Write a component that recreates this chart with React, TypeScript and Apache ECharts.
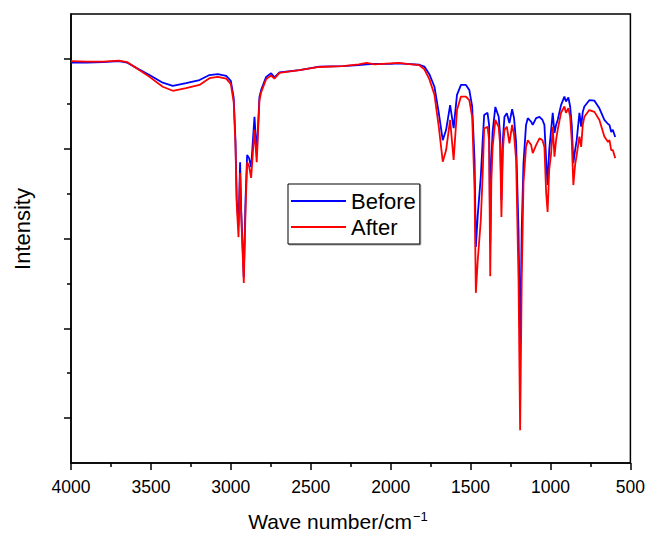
import React, { useEffect, useRef } from "react";
import * as echarts from "echarts";

const wavenumbers = [
  4000, 3900, 3800, 3700, 3650, 3592, 3509, 3426, 3363, 3280, 3196, 3134, 3082, 3029, 3000,
  2982, 2971, 2963, 2952, 2942, 2935, 2919, 2908, 2898, 2886, 2873, 2852, 2838, 2821, 2810,
  2779, 2748, 2727, 2696, 2571, 2446, 2300, 2200, 2150, 2100, 2000, 1950, 1900, 1820, 1789,
  1758, 1726, 1699, 1674, 1653, 1628, 1606, 1585, 1560, 1529, 1508, 1490, 1475, 1467, 1455,
  1436, 1424, 1415, 1394, 1384, 1377, 1370, 1362, 1345, 1324, 1315, 1307, 1298, 1288, 1273,
  1257, 1240, 1228, 1215, 1200, 1190, 1180, 1169, 1153, 1142, 1121, 1111, 1090, 1069, 1050,
  1038, 1027, 1018, 1008, 996, 986, 975, 965, 955, 934, 913, 903, 888, 877, 867,
  857, 846, 836, 819, 808, 798, 788, 757, 725, 694, 663, 640, 631, 620, 610,
  595,
];

const before = [
  8.92, 8.92, 8.93, 8.95, 8.92, 8.80, 8.64, 8.47, 8.40, 8.46, 8.53, 8.64, 8.66, 8.62, 8.51,
  8.13, 7.19, 5.86, 5.28, 6.70, 5.63, 4.14, 5.86, 6.86, 6.79, 6.59, 7.71, 6.90, 8.15, 8.31,
  8.60, 8.68, 8.59, 8.70, 8.75, 8.83, 8.84, 8.86, 8.88, 8.89, 8.89, 8.90, 8.89, 8.87, 8.83,
  8.66, 8.38, 7.80, 7.19, 7.42, 7.97, 7.46, 8.20, 8.42, 8.42, 8.31, 7.94, 6.75, 4.81, 5.52,
  6.38, 7.19, 7.75, 7.80, 7.53, 4.90, 6.75, 7.38, 7.93, 7.71, 7.31, 5.86, 7.19, 7.71, 7.79,
  7.57, 7.88, 7.68, 7.13, 5.19, 2.58, 5.19, 6.67, 7.53, 7.68, 7.60, 7.53, 7.68, 7.71, 7.64,
  7.53, 6.75, 6.19, 6.97, 7.42, 7.80, 7.35, 7.53, 7.64, 7.97, 8.16, 8.05, 8.14, 7.94, 7.53,
  6.68, 6.97, 7.19, 7.80, 7.49, 7.82, 7.94, 8.08, 8.07, 7.90, 7.64, 7.55, 7.53, 7.37, 7.42,
  7.26,
];

const after = [
  8.95, 8.94, 8.94, 8.96, 8.93, 8.80, 8.60, 8.38, 8.29, 8.35, 8.42, 8.57, 8.60, 8.56, 8.44,
  8.04, 7.08, 5.75, 5.03, 6.46, 5.52, 4.01, 5.63, 6.70, 6.61, 6.35, 7.42, 6.70, 8.08, 8.26,
  8.55, 8.63, 8.56, 8.69, 8.75, 8.82, 8.84, 8.88, 8.91, 8.88, 8.90, 8.91, 8.89, 8.86, 8.77,
  8.55, 8.20, 7.49, 6.71, 6.97, 7.64, 6.75, 7.86, 8.16, 8.16, 8.08, 7.71, 6.08, 3.79, 4.52,
  5.41, 6.46, 7.45, 7.49, 7.19, 4.16, 6.30, 7.04, 7.64, 7.48, 7.08, 5.48, 6.97, 7.42, 7.49,
  7.12, 7.53, 7.31, 6.75, 4.08, 0.73, 4.08, 6.24, 7.04, 7.19, 7.08, 6.90, 7.08, 7.23, 7.19,
  7.04, 6.01, 5.59, 6.53, 6.90, 7.48, 6.82, 7.19, 7.42, 7.80, 7.94, 7.80, 7.90, 7.71, 7.19,
  6.19, 6.64, 6.86, 7.27, 7.04, 7.53, 7.71, 7.86, 7.82, 7.64, 7.27, 7.15, 7.19, 6.97, 6.97,
  6.79,
];

const seriesNames = ["Before", "After"];
const seriesColors = ["#0000ff", "#ff0000"];
const majorYTicks = [1, 3, 5, 7, 9];
const minorYTicks = [2, 4, 6, 8];
const xTitle = "Wave number/cm{sup|\u22121}";
const yTitle = "Intensity";

export default function App() {
  const ref = useRef<HTMLDivElement>(null);
  useEffect(() => {
    const chart = echarts.init(ref.current!, null, { renderer: "svg" });
    const font = "Arial, 'Liberation Sans', Helvetica, sans-serif";
    const black = "#000";
    chart.setOption({
      animation: false,
      backgroundColor: "#fff",
      grid: {
        left: 71,
        right: 17,
        top: 14,
        bottom: 71,
        show: true,
        borderColor: black,
        borderWidth: 1.5,
        backgroundColor: "transparent",
      },
      xAxis: {
        type: "value",
        min: 500,
        max: 4000,
        interval: 500,
        inverse: true,
        axisLine: { show: true, lineStyle: { color: black, width: 1.5 } },
        axisTick: { show: true, inside: false, length: 7, lineStyle: { color: black, width: 1.5 } },
        minorTick: { show: true, splitNumber: 2, length: 4, lineStyle: { color: black, width: 1.5 } },
        axisLabel: {
          color: black,
          fontSize: 17.5,
          fontFamily: font,
          margin: 15,
          formatter: (v: number) => String(v),
        },
        splitLine: { show: false },
        minorSplitLine: { show: false },
      },
      yAxis: [
        {
          type: "value",
          min: 0,
          max: 10,
          interval: 1,
          position: "left",
          axisLine: { show: true, lineStyle: { color: black, width: 1.5 } },
          axisTick: { show: true, length: 4, customValues: minorYTicks, lineStyle: { color: black, width: 1.5 } },
          axisLabel: { show: false },
          splitLine: { show: false },
        },
        {
          type: "value",
          min: 0,
          max: 10,
          interval: 1,
          position: "left",
          offset: 0,
          axisLine: { show: false },
          axisTick: { show: true, length: 7, customValues: majorYTicks, lineStyle: { color: black, width: 1.5 } },
          axisLabel: { show: false },
          splitLine: { show: false },
        },
      ],
      legend: {
        left: 288,
        top: 184,
        orient: "vertical",
        data: seriesNames.map((n) => ({ name: n, icon: "rect" })),
        itemWidth: 55,
        itemHeight: 2,
        itemGap: 4,
        padding: [6, 4, 6, 3],
        borderColor: black,
        borderWidth: 1,
        backgroundColor: "#fff",
        shadowColor: "rgba(0,0,0,0.35)",
        shadowBlur: 0,
        shadowOffsetX: 1,
        shadowOffsetY: 1,
        textStyle: { color: black, fontSize: 22, fontFamily: font },
      },
      series: [before, after].map((vals, si) => ({
        name: seriesNames[si],
        type: "line",
        yAxisIndex: 0,
        showSymbol: false,
        symbol: "none",
        color: seriesColors[si],
        lineStyle: { color: seriesColors[si], width: 1.8 },
        data: wavenumbers.map((w, i) => [w, vals[i]]),
      })),
      graphic: [
        {
          type: "text",
          x: 338,
          y: 521,
          style: {
            text: xTitle,
            align: "center",
            verticalAlign: "middle",
            fontSize: 21,
            fontFamily: font,
            fill: black,
            rich: {
              sup: { fontSize: 13, fontFamily: font, fill: black, verticalAlign: "top", padding: [0, 0, 10, 1] },
            },
          },
        },
        {
          type: "text",
          x: 22,
          y: 229,
          rotation: Math.PI / 2,
          style: {
            text: yTitle,
            align: "center",
            verticalAlign: "middle",
            fontSize: 22,
            fontFamily: font,
            fill: black,
          },
        },
      ],
    });
    return () => chart.dispose();
  }, []);
  return <div ref={ref} style={{ position: "fixed", left: 0, top: 0, width: 648, height: 534 }} />;
}
